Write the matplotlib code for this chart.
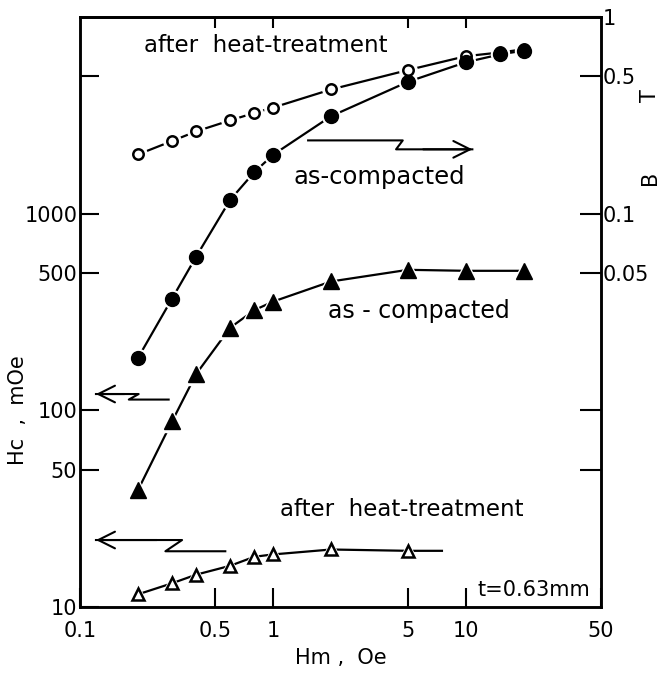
import numpy as np
import matplotlib.pyplot as plt
from matplotlib.ticker import FixedLocator, FixedFormatter, NullLocator

# Hm, Oe (maximum applied field)
hm = [0.2, 0.3, 0.4, 0.6, 0.8, 1, 2, 5, 10, 15, 20]
# B, T  (right axis)
b_heat = [0.200, 0.234, 0.262, 0.298, 0.325, 0.346, 0.428, 0.537, 0.632, 0.66, 0.685]
b_comp = [0.0185, 0.037, 0.0605, 0.1175, 0.1625, 0.199, 0.313, 0.468, 0.589, 0.645, 0.675]

# Hc, mOe  (left axis)
hm_hc_comp = [0.2, 0.3, 0.4, 0.6, 0.8, 1, 2, 5, 10, 20]
hc_comp = [39.4, 87.9, 153, 263, 323, 357, 452, 518, 512, 512]
hm_hc_heat = [0.2, 0.3, 0.4, 0.6, 0.8, 1, 2, 5]
hc_heat = [11.6, 13.2, 14.6, 16.2, 18.0, 18.5, 19.6, 19.3]
hc_heat_curve_end = (7.5, 19.3)   # curve drawn a bit beyond last point

xticks = [0.1, 0.5, 1, 5, 10, 50]
xlabels = ['0.1', '0.5', '1', '5', '10', '50']
top_ticks = [0.5, 1, 5, 10]
hc_ticks = [10, 50, 100, 500, 1000, 5000]
hc_labels = ['10', '50', '100', '500', '1000', '']
b_ticks = [0.005, 0.01, 0.05, 0.1, 0.5, 1]
b_labels = ['', '', '0.05', '0.1', '0.5', '1']

plt.rcParams['font.family'] = 'DejaVu Sans'

fig = plt.figure(figsize=(6.61, 6.73), dpi=100)
ax = fig.add_axes([0.1210, 0.0981, 0.7882, 0.8767])
ax2 = ax.twinx()

for a in (ax, ax2):
    a.set_xscale('log')
    a.set_yscale('log')
    a.set_xlim(0.1, 50)
ax.set_ylim(10, 1e4)
ax2.set_ylim(1e-3, 1)

ms_c = 10
ms_oc = 7.5
ms_t = 11
ms_ot = 8.5
halo = 5

# curves
ax.plot(hm_hc_comp, hc_comp, '-', color='k', lw=1.6, zorder=2)
ax.plot(hm_hc_heat + [hc_heat_curve_end[0]], hc_heat + [hc_heat_curve_end[1]],
        '-', color='k', lw=1.6, zorder=2)
ax2.plot(hm, b_heat, '-', color='k', lw=1.6, zorder=2)
ax2.plot(hm, b_comp, '-', color='k', lw=1.6, zorder=2)

# white halos give the gaps between line and symbol
ax.plot(hm_hc_comp, hc_comp, '^', ms=ms_t + halo, color='white', zorder=3)
ax.plot(hm_hc_heat, hc_heat, '^', ms=ms_ot + halo, color='white', zorder=3)
ax2.plot(hm, b_heat, 'o', ms=ms_oc + halo, color='white', zorder=3)
ax2.plot(hm, b_comp, 'o', ms=ms_c + halo - 2, color='white', zorder=3)

ax.plot(hm_hc_comp, hc_comp, '^', ms=ms_t, color='k', zorder=4)
ax.plot(hm_hc_heat, hc_heat, '^', ms=ms_ot, mfc='white', mec='k', mew=1.8, zorder=4)
ax2.plot(hm, b_heat, 'o', ms=ms_oc, mfc='white', mec='k', mew=1.8, zorder=4)
ax2.plot(hm, b_comp, 'o', ms=ms_c, color='k', zorder=5)

# ticks
ax.xaxis.set_major_locator(FixedLocator(xticks))
ax.xaxis.set_major_formatter(FixedFormatter(xlabels))
ax.xaxis.set_minor_locator(NullLocator())
ax.yaxis.set_major_locator(FixedLocator(hc_ticks))
ax.yaxis.set_major_formatter(FixedFormatter(hc_labels))
ax.yaxis.set_minor_locator(NullLocator())
ax2.yaxis.set_major_locator(FixedLocator(b_ticks))
ax2.yaxis.set_major_formatter(FixedFormatter(b_labels))
ax2.yaxis.set_minor_locator(NullLocator())

ax.tick_params(axis='x', which='major', direction='in', length=14,
               width=1.5, labelsize=15, pad=10)
ax.tick_params(axis='y', which='major', direction='in', length=14, width=1.5,
               labelsize=15, pad=2)
ax2.tick_params(axis='y', which='major', direction='in', length=15, width=1.5,
                labelsize=15, pad=1)

top = ax.secondary_xaxis('top')
top.xaxis.set_major_locator(FixedLocator(top_ticks))
top.xaxis.set_minor_locator(NullLocator())
top.tick_params(axis='x', direction='in', length=8, width=1.5, labeltop=False)
top.spines['top'].set_linewidth(1.8)

for a in (ax, ax2):
    for s in a.spines.values():
        s.set_linewidth(1.8)

ax.set_xlabel('Hm ,  Oe', fontsize=15, labelpad=5)
fig.text(0.027, 0.39, 'Hc  ,  mOe', rotation=90, fontsize=15, ha='center', va='center')
fig.text(0.983, 0.735, 'B', rotation=90, fontsize=15, ha='center', va='center')
fig.text(0.983, 0.858, 'T', rotation=90, fontsize=15, ha='center', va='center')

# annotations
ax.text(0.214, 7200, 'after  heat-treatment', fontsize=16.5, ha='left', va='center')
ax.text(1.27, 1527, 'as-compacted', fontsize=17.5, ha='left', va='center')
ax.text(1.92, 320, 'as - compacted', fontsize=17, ha='left', va='center')
ax.text(1.087, 31.3, 'after  heat-treatment', fontsize=16.5, ha='left', va='center')
ax.text(11.4, 12.2, 't=0.63mm', fontsize=15, ha='left', va='center')

# zig-zag arrows pointing to the axis each curve belongs to
arrow_kw = dict(arrowstyle='->,head_length=0.6,head_width=0.3', lw=1.5,
                color='k', mutation_scale=20, shrinkA=0, shrinkB=0)
ax.plot([1.52, 4.70, 4.34, 10.78], [2357, 2357, 2123, 2123], color='k', lw=1.5)
ax.annotate('', xy=(10.78, 2123), xytext=(6.0, 2123), arrowprops=arrow_kw)
ax.plot([0.121, 0.2014, 0.179, 0.288], [121, 121, 113.4, 113.4], color='k', lw=1.5)
ax.annotate('', xy=(0.121, 121), xytext=(0.17, 121), arrowprops=arrow_kw)
ax.plot([0.121, 0.338, 0.277, 0.566], [21.9, 21.9, 19.2, 19.2], color='k', lw=1.5)
ax.annotate('', xy=(0.121, 21.9), xytext=(0.25, 21.9), arrowprops=arrow_kw)

fig.savefig('out.png', dpi=100)
